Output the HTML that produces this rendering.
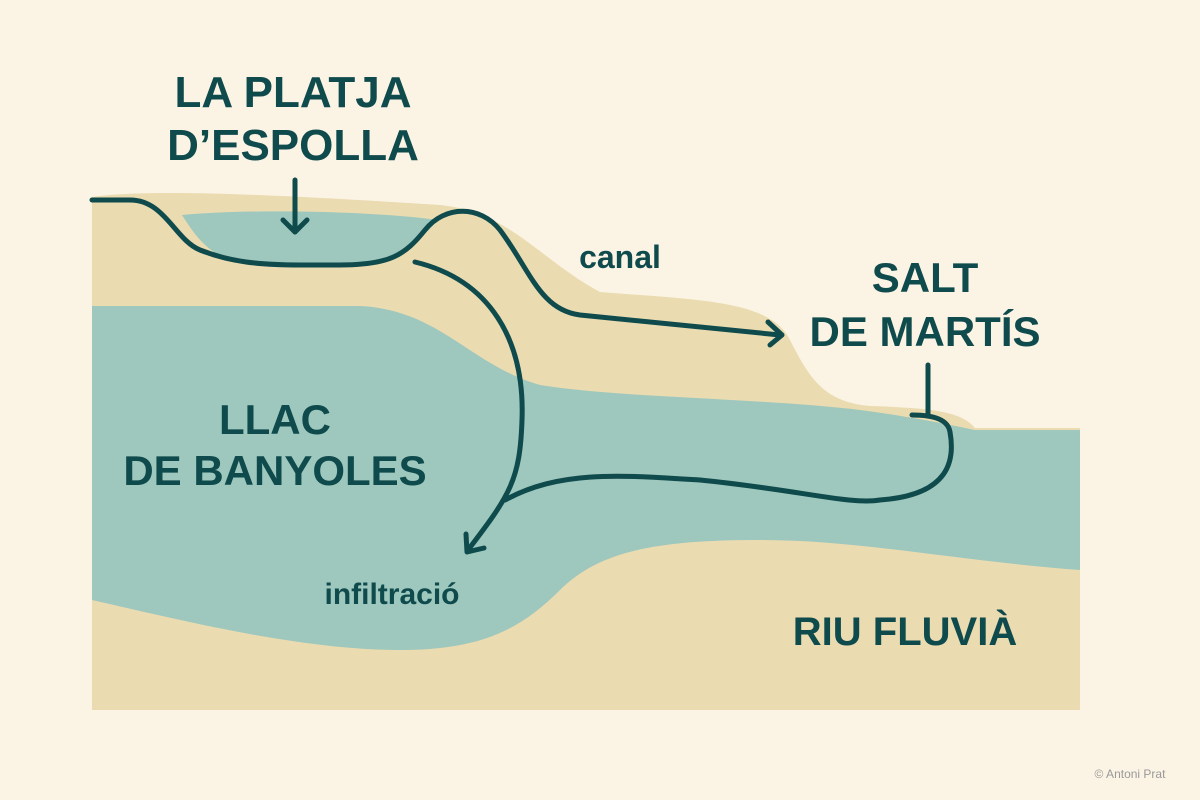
<!DOCTYPE html>
<html><head><meta charset="utf-8"><style>
html,body{margin:0;padding:0;background:#fbf4e4;}
svg{display:block}
text{font-family:"Liberation Sans","DejaVu Sans",sans-serif;fill:#0f4a4c;font-weight:bold}
</style></head><body>
<svg width="1200" height="800" viewBox="0 0 1200 800" xmlns="http://www.w3.org/2000/svg">
<rect width="1200" height="800" fill="#fbf4e4"/>
<path d="M92,197 C150,188 300,196 440,205 C510,212 540,260 600,292 C700,300 770,300 790,340 C810,380 825,402 870,406 C935,408 962,412 975,428 L1080,428 L1080,710 L92,710 Z" fill="#eadbb0"/>
<path d="M92,306 L360,306 C440,310 470,365 540,385 C620,398 760,398 860,410 C920,418 950,425 975,430 L1080,430 L1080,570 C950,560 860,540 760,540 C660,540 600,550 560,590 C520,630 480,650 400,650 C300,650 180,620 92,600 Z" fill="#9ec7bd"/>
<path d="M182,215 C260,208 380,212 438,220 C420,240 400,260 350,265 L250,265 C210,260 195,235 182,215Z" fill="#9ec7bd"/>
<g fill="none" stroke="#0f4a4c" stroke-width="5" stroke-linecap="round" stroke-linejoin="round">
<path d="M92,200 L130,200 C165,200 175,240 200,250 C230,262 260,265 300,265 L340,265 C390,265 405,255 425,230 C445,205 480,205 500,230 C530,270 540,310 580,315 L780,335"/>
<path d="M768,322 L782,335 L770,345"/>
<path d="M295,180 L295,232"/>
<path d="M283,220 L295,232 L307,220"/>
<path d="M415,262 C490,280 525,340 522,420 C520,480 510,495 468,550"/>
<path d="M466,534 L467,552 L484,548"/>
<path d="M505,500 C560,470 620,475 700,480 C800,490 850,505 880,500 C950,495 955,460 950,432 C948,420 935,415 912,415"/>
<path d="M928,365 L928,415"/>
</g>
<text x="293" y="107" font-size="44" text-anchor="middle">LA PLATJA</text>
<text x="293" y="160" font-size="44" text-anchor="middle">D’ESPOLLA</text>
<text x="620" y="268" font-size="32" text-anchor="middle" style="font-weight:600">canal</text>
<text x="925" y="292" font-size="42" text-anchor="middle">SALT</text>
<text x="925" y="346" font-size="42" text-anchor="middle">DE MARTÍS</text>
<text x="275" y="434" font-size="42" text-anchor="middle">LLAC</text>
<text x="275" y="485" font-size="42" text-anchor="middle">DE BANYOLES</text>
<text x="392" y="604" font-size="30" text-anchor="middle" style="font-weight:600">infiltració</text>
<text x="905" y="645" font-size="40" text-anchor="middle">RIU FLUVIÀ</text>
<text x="1130" y="778" font-size="12" text-anchor="middle" style="fill:#999;font-weight:normal">© Antoni Prat</text>
</svg>
</body></html>
